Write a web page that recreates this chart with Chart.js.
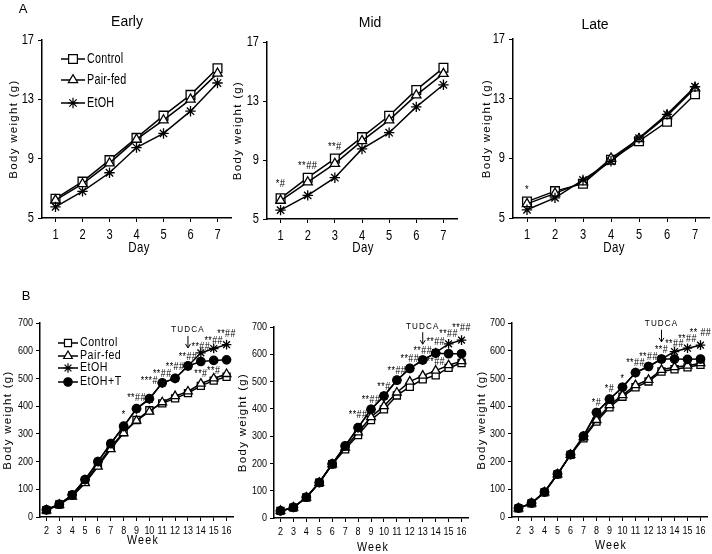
<!DOCTYPE html>
<html><head><meta charset="utf-8">
<script src="https://cdn.jsdelivr.net/npm/chart.js@4.4.1/dist/chart.umd.min.js"></script>
<style>
html,body{margin:0;padding:0;background:#fff;}
#wrap{position:relative;width:712px;height:554px;overflow:hidden;background:#fff;}
canvas{position:absolute;left:0;top:0;}
</style></head><body><div id="wrap">
<canvas id="c0" width="712" height="554"></canvas>
<canvas id="c1" width="712" height="554"></canvas>
<canvas id="c2" width="712" height="554"></canvas>
<canvas id="c3" width="712" height="554"></canvas>
<canvas id="c4" width="712" height="554"></canvas>
<canvas id="c5" width="712" height="554"></canvas>
</div>
<script>
// ---------- DATA ----------
const days = ['1','2','3','4','5','6','7'];
const weeks = ['2','3','4','5','6','7','8','9','10','11','12','13','14','15','16'];
const dayTicks = [5, 9, 13, 17];
const weekTicks = [0, 100, 200, 300, 400, 500, 600, 700];

const earlyControl = [6.3, 7.45, 8.9, 10.4, 11.9, 13.3, 15.1];
const earlyPairFed = [6.2, 7.3, 8.7, 10.3, 11.6, 13.0, 14.75];
const earlyEtOH    = [5.75, 6.8, 8.05, 9.75, 10.7, 12.2, 14.1];

const midControl = [6.4, 7.8, 9.1, 10.55, 12.0, 13.75, 15.25];
const midPairFed = [6.25, 7.5, 8.75, 10.3, 11.7, 13.4, 14.85];
const midEtOH    = [5.6, 6.6, 7.8, 9.75, 10.85, 12.6, 14.1];

const lateControl = [6.1, 6.8, 7.3, 8.9, 10.15, 11.45, 13.3];
const latePairFed = [5.95, 6.65, 7.4, 9.0, 10.3, 11.85, 13.7];
const lateEtOH    = [5.55, 6.35, 7.55, 8.8, 10.35, 11.95, 13.8];

const b1Control = [25, 45, 78, 128, 188, 252, 306, 350, 385, 410, 428, 447, 473, 492, 506];
const b1PairFed = [24, 44, 74, 122, 182, 245, 303, 348, 380, 414, 436, 453, 481, 500, 516];
const b1EtOH    = [26, 46, 80, 135, 200, 265, 326, 390, 425, 484, 500, 545, 592, 608, 622];
const b1EtOHT   = [26, 46, 80, 135, 200, 265, 328, 391, 427, 484, 500, 545, 561, 565, 567];

const b2Control = [26, 38, 75, 129, 197, 252, 304, 359, 398, 449, 481, 508, 523, 550, 568];
const b2PairFed = [26, 38, 75, 129, 197, 258, 314, 370, 410, 460, 500, 522, 540, 560, 575];
const b2EtOH    = [26, 39, 76, 130, 198, 264, 331, 398, 447, 505, 548, 579, 606, 638, 652];
const b2EtOHT   = [26, 39, 76, 130, 198, 264, 331, 398, 447, 505, 548, 579, 604, 602, 602];

const b3Control = [31, 49, 89, 154, 224, 284, 344, 396, 434, 468, 489, 525, 533, 540, 549];
const b3PairFed = [31, 49, 89, 154, 224, 288, 350, 404, 440, 476, 495, 531, 541, 546, 555];
const b3EtOH    = [32, 50, 90, 155, 225, 292, 377, 425, 468, 521, 543, 570, 597, 609, 620];
const b3EtOHT   = [32, 50, 90, 155, 225, 292, 377, 425, 468, 521, 543, 570, 570, 569, 570];

// significance marks: [category index, y value, text]
const midNotes  = [[0, 7.4, '*#'], [1, 8.6, '**##'], [2, 9.9, '**#']];
const lateNotes = [[0, 6.86, '*']];
const b1Notes = [[6, 368, '*'], [7, 430, '**##'], [8, 490, '***#'], [9, 516, '**##'], [10, 541, '**##'],
                 [11, 577, '**##'], [12, 614, '**##'], [13, 635, '**##'], [14, 660, '**##'],
                 [12, 516, '**#'], [13, 527, '**#']];
const b2Notes = [[6, 377, '**##'], [7, 432, '**##'], [8, 480, '**#'], [9, 539, '**##'], [10, 583, '**##'],
                 [11, 612, '**##'], [12, 645, '**##'], [13, 674, '**##'], [14, 696, '**##'], [12, 571, '**##']];
const b3Notes = [[6, 412, '*#'], [7, 462, '*#'], [8, 498, '*'], [9, 556, '**##'], [10, 578, '**##'],
                 [11, 603, '**#'], [12, 624, '**##'], [13, 643, '**##'], [14, 664, '** ##']];
const tudcaLabel = 'TUDCA';
const b1Tudca = [11, 675];
const b2Tudca = [11, 703];
const b3Tudca = [11, 697];

// ---------- STYLE ----------
const SANS = "'Liberation Sans',Arial,sans-serif";
const STYLE = {
  'Control':  {pointStyle: 'rect', bg: '#fff'},
  'Pair-fed': {pointStyle: 'triangle', bg: '#fff'},
  'EtOH':     {pointStyle: 'star', bg: '#fff'},
  'EtOH+T':   {pointStyle: 'circle', bg: '#000'}
};
const ORDER = {'EtOH+T': 0, 'EtOH': 1, 'Pair-fed': 2, 'Control': 3};

function condText(ctx, text, x, y, size, sx, align, ls) {
  ctx.save();
  ctx.translate(x, y);
  ctx.scale(sx, 1);
  ctx.font = size + 'px ' + SANS;
  ctx.textAlign = align || 'center';
  ctx.textBaseline = 'middle';
  if ('letterSpacing' in ctx) ctx.letterSpacing = (ls || 0) + 'px';
  ctx.fillStyle = '#000';
  ctx.fillText(text, 0, 0);
  ctx.restore();
}

function drawMarker(ctx, style, x, y, r, bg) {
  ctx.save();
  ctx.lineWidth = 1.2; ctx.strokeStyle = '#000'; ctx.fillStyle = bg;
  ctx.beginPath();
  if (style === 'rect') {
    const s = r * Math.SQRT1_2; ctx.rect(x - s, y - s, 2 * s, 2 * s); ctx.fill(); ctx.stroke();
  } else if (style === 'triangle') {
    let a = 0;
    ctx.moveTo(x + Math.sin(a) * r, y - Math.cos(a) * r);
    a += 2 * Math.PI / 3; ctx.lineTo(x + Math.sin(a) * r, y - Math.cos(a) * r);
    a += 2 * Math.PI / 3; ctx.lineTo(x + Math.sin(a) * r, y - Math.cos(a) * r);
    ctx.closePath(); ctx.fill(); ctx.stroke();
  } else if (style === 'star') {
    for (let k = 0; k < 4; k++) {
      const a = k * Math.PI / 4;
      ctx.moveTo(x - Math.cos(a) * r, y - Math.sin(a) * r);
      ctx.lineTo(x + Math.cos(a) * r, y + Math.sin(a) * r);
    }
    ctx.stroke();
  } else {
    ctx.arc(x, y, r, 0, Math.PI * 2); ctx.fill(); ctx.stroke();
  }
  ctx.restore();
}

const decor = {
  id: 'decor',
  afterDraw(chart, args, o) {
    const ctx = chart.ctx;
    const xs = chart.scales.x, ys = chart.scales.y;
    const ca = chart.chartArea;
    ctx.save();
    if (o.letter) condText(ctx, o.letter.text, o.letter.x, o.letter.y, 13, 1, 'center');
    if (o.title) condText(ctx, o.title.text, o.title.x, o.title.y, 14, 1, 'center');
    // tick labels
    const T = o.ticks;
    chart.data.labels.forEach((lab, i) => {
      condText(ctx, lab, xs.getPixelForTick(i), ca.bottom + T.xdy, T.xs, T.sx, 'center');
    });
    ys.ticks.forEach(t => {
      condText(ctx, String(t.value), ca.left - T.ydx, ys.getPixelForValue(t.value), T.ys, T.sx, 'right');
    });
    // x title
    const X = o.xTitle;
    condText(ctx, X.text, X.x, X.y, X.size, X.sx, 'center', X.ls);
    // y title
    ctx.save();
    ctx.translate(o.yTitle.x, (ca.top + ca.bottom) / 2);
    ctx.rotate(-Math.PI / 2);
    condText(ctx, 'Body weight (g)', 0, 0, o.yTitle.size, 1, 'center', 1.3);
    ctx.restore();
    // legend
    if (o.legend) {
      const L = o.legend;
      chart.data.datasets.slice().sort((a, b) => a.legendIndex - b.legendIndex).forEach((ds, i) => {
        const y = L.ys[i];
        ctx.save();
        ctx.strokeStyle = '#000'; ctx.lineWidth = 1.5;
        ctx.beginPath(); ctx.moveTo(L.x0, y); ctx.lineTo(L.x1, y); ctx.stroke();
        ctx.restore();
        drawMarker(ctx, ds.pointStyle, (L.x0 + L.x1) / 2, y, ds.pointRadius, ds.pointBackgroundColor);
        condText(ctx, ds.label, L.tx, y, L.size, L.sx, 'left', L.ls);
      });
    }
    // significance notes
    (o.notes || []).forEach(n => {
      condText(ctx, n[2], xs.getPixelForValue(n[0]), ys.getPixelForValue(n[1]), o.noteSize, 0.85, 'center', 0.5);
    });
    if (o.tudca) {
      const tx = xs.getPixelForValue(o.tudca[0]), ty = ys.getPixelForValue(o.tudca[1]);
      condText(ctx, tudcaLabel, tx, ty, 9, 0.9, 'center', 1.2);
      ctx.strokeStyle = '#000'; ctx.lineWidth = 1;
      ctx.beginPath(); ctx.moveTo(tx, ty + 6); ctx.lineTo(tx, ty + 18);
      ctx.moveTo(tx - 2.5, ty + 14); ctx.lineTo(tx, ty + 18); ctx.lineTo(tx + 2.5, ty + 14);
      ctx.stroke();
    }
    ctx.restore();
  }
};

function series(label, data, r, idx) {
  const st = STYLE[label];
  return {
    label, data, legendIndex: idx, order: ORDER[label],
    borderColor: '#000', borderWidth: 1.5,
    pointStyle: st.pointStyle, pointRadius: r[st.pointStyle], pointBackgroundColor: st.bg,
    pointBorderColor: '#000', pointBorderWidth: 1.3, clip: false, tension: 0
  };
}

function panel(id, labels, sets, area, y, deco) {
  const W = 30, H = 30;
  new Chart(document.getElementById(id), {
    type: 'line',
    data: {labels, datasets: sets},
    options: {
      responsive: false, animation: false, devicePixelRatio: 1,
      layout: {autoPadding: false, padding: {left: area[0] - W, top: area[1], right: 712 - area[2], bottom: 554 - area[3] - H}},
      plugins: {legend: {display: false}, tooltip: {enabled: false}, decor: deco},
      scales: {
        x: {
          type: 'category', offset: true,
          afterFit: s => { s.height = H; },
          grid: {display: true, drawOnChartArea: false, drawTicks: true, tickLength: 4, color: '#000', lineWidth: 1},
          border: {display: true, color: '#000', width: 1.5},
          ticks: {display: false, autoSkip: false, maxRotation: 0}
        },
        y: {
          min: y.min, max: y.max,
          afterFit: s => { s.width = W; },
          afterBuildTicks: s => { s.ticks = y.ticks.map(v => ({value: v})); },
          grid: {display: true, drawOnChartArea: false, drawTicks: true, tickLength: 4, color: '#000', lineWidth: 1},
          border: {display: true, color: '#000', width: 1.5},
          ticks: {display: false}
        }
      }
    },
    plugins: [decor]
  });
}

const rA = {rect: 6.2, triangle: 5.4, star: 5.2, circle: 4.2};
const rB = {rect: 5, triangle: 5, star: 4.8, circle: 4.2};
const yA = {min: 5, max: 17, ticks: dayTicks};
const yB = {min: 0, max: 700, ticks: weekTicks};
const tA = {xs: 15, ys: 15, sx: 0.74, xdy: 17, ydx: 8};
const tB = {xs: 11.5, ys: 11.5, sx: 0.78, xdy: 14, ydx: 7};
const dayTitle = (x) => ({text: 'Day', x, y: 248, size: 14, sx: 0.82, ls: 0.5});
const weekTitle = (x, y) => ({text: 'Week', x, y, size: 13, sx: 0.82, ls: 1.5});

panel('c0', days, [series('Control', earlyControl, rA, 0), series('Pair-fed', earlyPairFed, rA, 1), series('EtOH', earlyEtOH, rA, 2)],
  [42, 40, 231, 218], yA,
  {letter: {text: 'A', x: 23, y: 9}, title: {text: 'Early', x: 127, y: 22}, xTitle: dayTitle(139), ticks: tA,
   yTitle: {x: 14, size: 11.5}, legend: {x0: 61, x1: 85, tx: 87, ys: [59, 80, 103], size: 15, sx: 0.72, ls: 0.3},
   noteSize: 11, notes: []});
panel('c1', days, [series('Control', midControl, rA, 0), series('Pair-fed', midPairFed, rA, 1), series('EtOH', midEtOH, rA, 2)],
  [267, 42, 457, 219], yA,
  {title: {text: 'Mid', x: 370, y: 23}, xTitle: dayTitle(363), ticks: tA,
   yTitle: {x: 238, size: 11.5}, noteSize: 11, notes: midNotes});
panel('c2', days, [series('Control', lateControl, rA, 0), series('Pair-fed', latePairFed, rA, 1), series('EtOH', lateEtOH, rA, 2)],
  [513, 39, 709, 218], yA,
  {title: {text: 'Late', x: 595, y: 25}, xTitle: dayTitle(614), ticks: tA,
   yTitle: {x: 487, size: 11.5}, noteSize: 11, notes: lateNotes});
panel('c3', weeks, [series('Control', b1Control, rB, 0), series('Pair-fed', b1PairFed, rB, 1), series('EtOH', b1EtOH, rB, 2), series('EtOH+T', b1EtOHT, rB, 3)],
  [40, 323, 233, 517], yB,
  {letter: {text: 'B', x: 26, y: 296}, xTitle: weekTitle(143, 540), ticks: tB,
   yTitle: {x: 8, size: 11.5}, legend: {x0: 58, x1: 78, tx: 80, ys: [343, 356, 368, 382], size: 12.5, sx: 0.85, ls: 0.6},
   noteSize: 10.5, notes: b1Notes, tudca: b1Tudca});
panel('c4', weeks, [series('Control', b2Control, rB, 0), series('Pair-fed', b2PairFed, rB, 1), series('EtOH', b2EtOH, rB, 2), series('EtOH+T', b2EtOHT, rB, 3)],
  [274, 327, 468, 518], yB,
  {xTitle: weekTitle(373, 547), ticks: tB, yTitle: {x: 243, size: 11.5},
   noteSize: 10.5, notes: b2Notes, tudca: b2Tudca});
panel('c5', weeks, [series('Control', b3Control, rB, 0), series('Pair-fed', b3PairFed, rB, 1), series('EtOH', b3EtOH, rB, 2), series('EtOH+T', b3EtOHT, rB, 3)],
  [512, 323, 707, 517], yB,
  {xTitle: weekTitle(611, 545), ticks: tB, yTitle: {x: 482, size: 11.5},
   noteSize: 10.5, notes: b3Notes, tudca: b3Tudca});
</script>
</body></html>
